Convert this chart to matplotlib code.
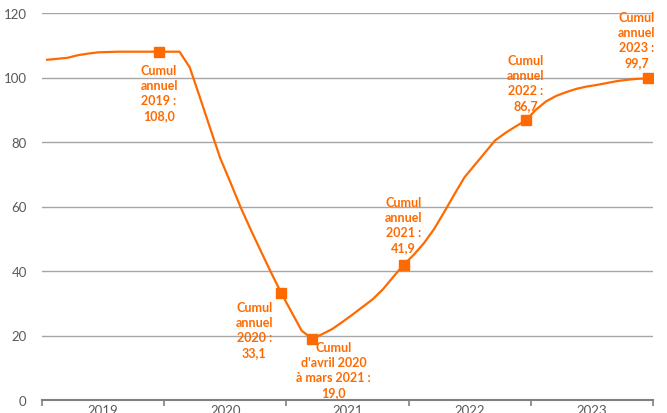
import matplotlib
matplotlib.use("Agg")
import matplotlib.pyplot as plt
import numpy as np

# Monthly rolling cumulative values, Jan 2019 .. Dec 2023
values_2019 = [105.5, 105.8, 106.1, 106.9, 107.4, 107.8, 107.9, 108.0, 108.0, 108.0, 108.0, 108.0]
values_2020 = [108.0, 108.0, 103.2, 93.9, 84.4, 75.0, 67.5, 59.8, 52.8, 46.1, 39.5, 33.1]
values_2021 = [27.3, 21.5, 19.0, 20.4, 22.0, 24.2, 26.5, 28.9, 31.3, 34.4, 38.2, 41.9]
values_2022 = [45.0, 48.6, 53.0, 58.3, 63.8, 69.1, 72.9, 76.7, 80.5, 82.8, 84.8, 86.7]
values_2023 = [90.0, 92.6, 94.3, 95.5, 96.5, 97.2, 97.7, 98.3, 98.9, 99.3, 99.6, 99.7]
years = ["2019", "2020", "2021", "2022", "2023"]

# highlighted months (index from Jan 2019) and their labels
marker_months = [11, 23, 26, 35, 47, 59]
marker_labels = [
    "Cumul\nannuel\n2019 :\n108,0",
    "Cumul\nannuel\n2020 :\n33,1",
    "Cumul\nd'avril 2020\nà mars 2021 :\n19,0",
    "Cumul\nannuel\n2021 :\n41,9",
    "Cumul\nannuel\n2022 :\n86,7",
    "Cumul\nannuel\n2023 :\n99,7",
]
# label offsets in pixels (layout)
label_offsets = [(0, -41), (-27, -36), (22, -31), (0, 40), (0, 38), (-11, 39)]

values = np.array(values_2019 + values_2020 + values_2021 + values_2022 + values_2023)
x = np.arange(len(values)) + 0.5

orange = "#FF6A00"
grey_txt = "#595959"

plt.rcParams["font.family"] = ["Lato", "DejaVu Sans"]

fig = plt.figure(figsize=(6.67, 4.14), dpi=100)
ax = fig.add_axes([42 / 667, 13 / 414, (653 - 42) / 667, (401 - 14) / 414])

ax.set_xlim(0, len(values))
ax.set_ylim(0, 120)

for yv in range(20, 121, 20):
    ax.axhline(yv, color="#A6A6A6", lw=1.0, zorder=0)

ax.plot(x, values, color=orange, lw=1.6, zorder=3, solid_joinstyle="round")
mx = x[marker_months]
my = values[marker_months]
ax.plot(mx, my, ls="none", marker="s", ms=6.5, color=orange, zorder=4)

for xi, yi, lab, off in zip(mx, my, marker_labels, label_offsets):
    ax.annotate(lab, xy=(xi, yi), xytext=off, textcoords="offset pixels",
                ha="center", va="center", multialignment="center",
                color=orange, fontsize=9, fontweight="bold", linespacing=1.3,
                zorder=5)

for s in ["top", "right", "left"]:
    ax.spines[s].set_visible(False)
ax.spines["bottom"].set_color("#808080")
ax.spines["bottom"].set_linewidth(1.5)

ax.set_yticks(range(0, 121, 20))
ax.set_yticklabels([str(v) for v in range(0, 121, 20)])
ax.tick_params(axis="y", length=0, pad=11, labelcolor=grey_txt, labelsize=9.5)

ax.set_xticks(np.arange(0, len(values) + 1, 12))
ax.set_xticklabels([])
ax.set_xticks(np.arange(6, len(values), 12), minor=True)
ax.set_xticklabels(years, minor=True)
ax.tick_params(axis="x", which="major", length=4, width=1.2, color="#808080", direction="out")
ax.tick_params(axis="x", which="minor", length=0, pad=3, labelcolor=grey_txt, labelsize=9.5)

fig.savefig("out.png", dpi=100)
